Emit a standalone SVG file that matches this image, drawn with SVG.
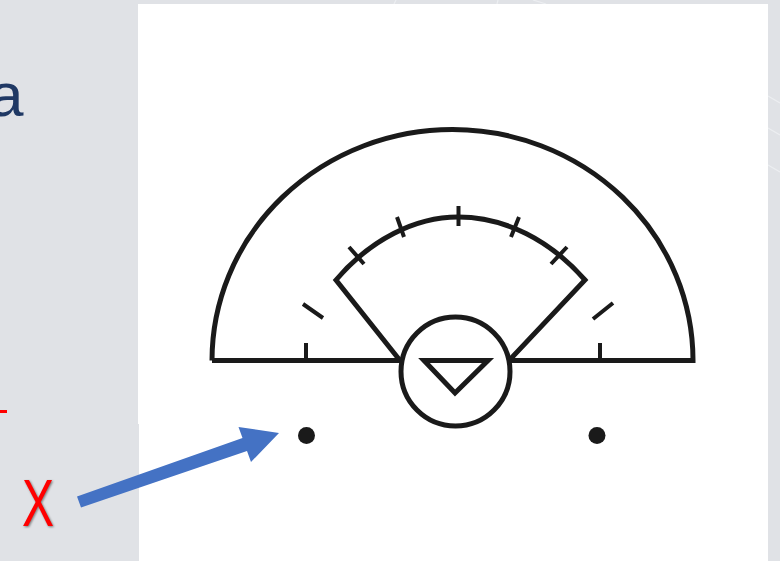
<svg xmlns="http://www.w3.org/2000/svg" width="780" height="561" viewBox="0 0 780 561">
<style>
.l{fill:none;stroke:#1a1a1a;stroke-width:5;stroke-linejoin:miter;stroke-miterlimit:8}
.t{fill:none;stroke:#1a1a1a;stroke-width:4}
.bg{fill:none;stroke:#eceef1;stroke-width:1.2}
</style>
<rect id="background" width="780" height="561" fill="#e0e2e6"/>
<g id="decor">
<path class="bg" d="M396 0L394 4M498 0L497 4M533 0L546 4M768 96L780 103M768 128L780 135M768 165L780 172"/>
</g>
<rect id="panel" x="138" y="4" width="630" height="557" fill="#fff"/>
<rect x="133" y="424" width="6" height="137" fill="#e0e2e6"/>
<text x="-11" y="116" font-family="'Liberation Sans',Arial,sans-serif" font-size="62" fill="#1f3864">a</text>
<rect x="0" y="410" width="7" height="3" fill="#f00"/>
<g id="field">
<path class="l" d="M212 360.500A240.500 231 0 0 1 693 360.500H509M400 360.500H212"/>
<path class="l" d="M400 360.500L336 280C370 240 415 217 458 217C505 217 550 240 585 280L509 360.500"/>
<path class="t" d="M306 360V343M600 360V343M303 304L323 318M613 303L593 319"/>
<path class="t" d="M349 247L364 264M397 217L404 237M458.500 206V226M519 217L511 237M567 247L551 264"/>
</g>
<g id="plate">
<circle class="l" cx="455.500" cy="371.500" r="54.500"/>
<path class="l" d="M424 360.500H488L455 393Z"/>
</g>
<g id="left-dot"><circle cx="306.500" cy="435.500" r="8.500" fill="#1a1a1a"/></g>
<g id="right-dot"><circle cx="597" cy="435.500" r="8.500" fill="#1a1a1a"/></g>
<g id="connectors">
<path d="M77 496.500L242.500 438L238.500 427L279 433L251 462L247 451L81 507.500Z" fill="#4472c4"/>
</g>
<g id="x-label"><text x="38" y="526" text-anchor="middle" font-family="'Liberation Sans',Arial,sans-serif" font-size="66" fill="#f00" textLength="32" lengthAdjust="spacingAndGlyphs" style="filter:drop-shadow(1px 1px 1px #777)">X</text></g>
</svg>
